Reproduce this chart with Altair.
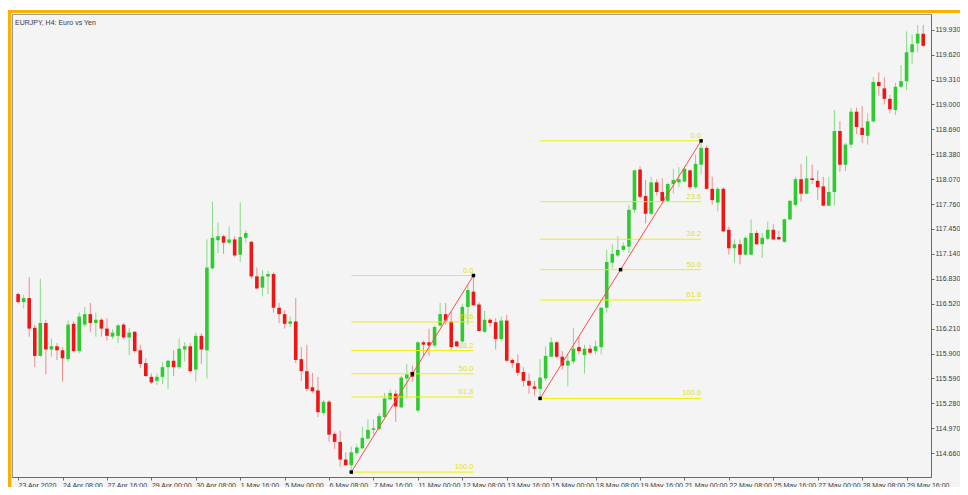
import altair as alt
import pandas as pd

# ---- EURJPY H4 candles ----
opens = [116.64, 116.54, 116.59, 116.22, 115.87, 116.28, 115.95, 115.99, 115.94, 115.83,
         116.27, 115.93, 116.26, 116.39, 116.28, 116.32, 116.21, 116.11, 116.12, 116.26,
         116.10, 116.17, 115.94, 115.78, 115.61, 115.56, 115.61, 115.73, 115.81, 115.73,
         115.95, 115.99, 115.70, 116.12, 115.94, 116.96, 117.31, 117.36, 117.28, 117.32,
         117.13, 117.34, 117.29, 116.86, 116.72, 116.86, 116.89, 116.47, 116.39, 116.27,
         116.30, 115.83, 115.68, 115.48, 115.44, 115.16, 115.30, 114.90, 114.80, 114.58,
         114.51, 114.66, 114.72, 114.84, 114.95, 114.96, 115.11, 115.33, 115.40, 115.23,
         115.59, 115.67, 115.19, 116.04, 116.04, 116.00, 116.25, 116.39, 116.30, 116.05,
         116.05, 116.48, 116.67, 116.51, 116.17, 116.32, 116.29, 116.08, 116.31, 115.82,
         115.78, 115.67, 115.56, 115.49, 115.46, 115.59, 115.86, 116.04, 115.86, 115.75,
         115.80, 115.98, 115.88, 115.96, 115.93, 115.98, 116.47, 117.03, 117.12, 117.19,
         117.23, 117.69, 118.19, 117.86, 117.64, 118.03, 117.91, 117.80, 118.01, 118.03,
         118.04, 118.18, 117.97, 118.25, 118.46, 117.95, 117.78, 117.95, 117.44, 117.21,
         117.26, 117.13, 117.13, 117.40, 117.26, 117.33, 117.44, 117.35, 117.29, 117.57,
         117.75, 118.07, 117.89, 118.08, 118.05, 117.98, 117.74, 117.91, 118.67, 118.25,
         118.50, 118.91, 118.71, 118.61, 118.79, 119.28, 119.20, 119.07, 118.93, 119.22,
         119.29, 119.65, 119.76, 119.88]
highs = [116.66, 116.63, 116.85, 116.26, 116.83, 116.32, 116.09, 116.03, 115.98, 116.31,
         116.30, 116.41, 116.48, 116.53, 116.41, 116.34, 116.34, 116.20, 116.27, 116.28,
         116.22, 116.18, 116.01, 115.84, 115.65, 115.65, 115.79, 115.82, 115.94, 116.09,
         116.04, 116.03, 116.16, 116.15, 117.32, 117.79, 117.53, 117.38, 117.48, 117.36,
         117.78, 117.43, 117.30, 116.97, 116.94, 116.93, 116.91, 116.53, 116.44, 116.36,
         116.59, 115.98, 116.01, 115.66, 115.61, 115.32, 115.32, 114.93, 114.94, 114.67,
         114.74, 114.77, 114.99, 115.08, 115.08, 115.16, 115.41, 115.45, 115.44, 115.62,
         115.77, 115.75, 116.05, 116.06, 116.21, 116.25, 116.53, 116.53, 116.42, 116.06,
         116.52, 116.75, 116.871, 116.54, 116.43, 116.34, 116.34, 116.36, 116.38, 115.84,
         115.89, 115.73, 115.65, 115.56, 115.83, 115.99, 116.10, 116.05, 115.93, 115.89,
         116.22, 116.11, 116.01, 116.01, 116.06, 116.48, 117.19, 117.26, 117.36, 117.28,
         117.75, 118.19, 118.23, 118.06, 118.10, 118.07, 118.08, 118.03, 118.20, 118.22,
         118.23, 118.19, 118.38, 118.547, 118.49, 118.10, 117.97, 117.97, 117.48, 117.32,
         117.32, 117.36, 117.57, 117.43, 117.40, 117.54, 117.51, 117.43, 117.58, 117.81,
         118.10, 118.26, 118.36, 118.25, 118.18, 118.10, 118.10, 118.93, 118.79, 118.52,
         118.96, 118.96, 118.98, 118.89, 119.34, 119.40, 119.34, 119.12, 119.27, 119.49,
         119.91, 119.87, 119.99, 119.99]
lows = [116.52, 116.46, 116.11, 115.73, 115.86, 115.64, 115.86, 115.82, 115.55, 115.80,
        115.91, 115.90, 116.23, 116.17, 116.11, 116.11, 116.06, 116.08, 116.03, 116.08,
        115.88, 115.91, 115.72, 115.61, 115.52, 115.51, 115.52, 115.46, 115.62, 115.71,
        115.80, 115.66, 115.55, 115.77, 115.59, 116.95, 117.15, 117.14, 117.26, 117.10,
        117.04, 117.28, 116.83, 116.70, 116.61, 116.64, 116.41, 116.28, 116.21, 116.23,
        115.78, 115.56, 115.43, 115.41, 115.11, 115.13, 114.80, 114.71, 114.49, 114.50,
        114.424, 114.63, 114.71, 114.83, 114.89, 114.94, 115.10, 115.32, 115.05, 115.22,
        115.34, 115.55, 115.17, 115.87, 115.87, 115.98, 116.23, 116.26, 115.95, 115.98,
        116.03, 116.26, 116.49, 116.17, 116.16, 116.23, 115.95, 116.05, 115.80, 115.72,
        115.62, 115.49, 115.40, 115.38, 115.341, 115.56, 115.86, 115.84, 115.70, 115.49,
        115.77, 115.89, 115.65, 115.89, 115.89, 115.89, 116.41, 116.96, 117.10, 117.17,
        117.15, 117.65, 117.83, 117.52, 117.62, 117.87, 117.78, 117.78, 117.89, 117.97,
        118.03, 117.94, 117.95, 118.13, 117.94, 117.75, 117.67, 117.41, 117.13, 117.03,
        117.01, 117.12, 117.12, 117.25, 117.09, 117.31, 117.31, 117.31, 117.28, 117.56,
        117.73, 117.79, 117.88, 118.01, 117.81, 117.73, 117.73, 117.74, 118.16, 118.17,
        118.46, 118.63, 118.52, 118.50, 118.77, 119.11, 119.00, 118.89, 118.87, 119.20,
        119.18, 119.50, 119.65, 119.71]
closes = [116.54, 116.59, 116.21, 115.87, 116.28, 115.95, 115.99, 115.94, 115.84, 116.26,
          115.93, 116.36, 116.39, 116.28, 116.32, 116.21, 116.12, 116.16, 116.25, 116.10,
          116.16, 115.93, 115.77, 115.62, 115.54, 115.61, 115.73, 115.81, 115.73, 115.96,
          115.99, 115.68, 116.12, 115.95, 116.97, 117.34, 117.36, 117.28, 117.32, 117.12,
          117.35, 117.40, 116.86, 116.71, 116.86, 116.89, 116.47, 116.39, 116.27, 116.30,
          115.82, 115.68, 115.46, 115.43, 115.17, 115.30, 114.89, 114.80, 114.58, 114.51,
          114.67, 114.73, 114.85, 114.95, 114.97, 115.12, 115.34, 115.41, 115.24, 115.60,
          115.64, 115.61, 116.04, 116.01, 116.00, 116.23, 116.39, 116.31, 115.98, 115.99,
          116.48, 116.69, 116.50, 116.18, 116.32, 116.28, 116.08, 116.31, 115.81, 115.78,
          115.66, 115.56, 115.50, 115.46, 115.60, 115.87, 116.04, 115.86, 115.75, 115.81,
          115.96, 115.93, 115.96, 115.91, 115.99, 116.47, 117.04, 117.14, 117.19, 117.24,
          117.69, 118.18, 117.85, 117.64, 118.03, 117.91, 117.80, 118.01, 118.06, 118.07,
          118.20, 117.97, 118.26, 118.46, 117.95, 117.81, 117.95, 117.42, 117.21, 117.26,
          117.13, 117.34, 117.40, 117.26, 117.34, 117.44, 117.32, 117.32, 117.57, 117.80,
          118.07, 117.89, 118.08, 118.06, 117.97, 117.74, 117.91, 118.67, 118.25, 118.50,
          118.91, 118.72, 118.62, 118.79, 119.28, 119.23, 119.07, 118.94, 119.22, 119.29,
          119.65, 119.75, 119.88, 119.73]

y_ticks = [114.660, 114.970, 115.280, 115.590, 115.900, 116.210, 116.520, 116.830, 117.140,
           117.450, 117.760, 118.070, 118.380, 118.690, 119.000, 119.310, 119.620, 119.930]
x_tick_labels = ["23 Apr 2020", "24 Apr 08:00", "27 Apr 16:00", "29 Apr 00:00", "30 Apr 08:00",
                 "1 May 16:00", "5 May 00:00", "6 May 08:00", "7 May 16:00", "11 May 00:00",
                 "12 May 08:00", "13 May 16:00", "15 May 00:00", "18 May 08:00", "19 May 16:00",
                 "21 May 00:00", "22 May 08:00", "25 May 16:00", "27 May 00:00", "28 May 08:00",
                 "29 May 16:00"]
x_tick_step = 8

# Fibonacci retracements: (bar index of low, low, bar index of high, high)
fib_low_index = [60, 94]
fib_low_price = [114.424, 115.341]
fib_high_index = [82, 123]
fib_high_price = [116.871, 118.547]
fib_levels = [0.0, 23.6, 38.2, 50.0, 61.8, 100.0]

title_text = "EURJPY, H4: Euro vs Yen"

n = len(opens)
assert len(highs) == n and len(lows) == n and len(closes) == n, (len(opens), len(highs), len(lows), len(closes))

candles = pd.DataFrame({"i": list(range(n)), "open": opens, "high": highs,
                        "low": lows, "close": closes})

fib_rows, diag_rows, anchor_rows = [], [], []
for a, lo, b, hi in zip(fib_low_index, fib_low_price, fib_high_index, fib_high_price):
    for lv in fib_levels:
        fib_rows.append({"x0": a, "x1": b, "price": hi - (hi - lo) * lv / 100.0,
                         "label": f"{lv:.1f}"})
    diag_rows.append({"x0": a, "x1": b, "y0": lo, "y1": hi})
    for t in (0.0, 0.5, 1.0):
        anchor_rows.append({"x": a + (b - a) * t, "y": lo + (hi - lo) * t})
fib_df = pd.DataFrame(fib_rows)
diag_df = pd.DataFrame(diag_rows)
anchor_df = pd.DataFrame(anchor_rows)
one = pd.DataFrame({"k": [0]})

# whole chart = 4 + W + 29 = 952 wide, 6 + H + 10 = 479 tall (fits the page)
W, H = 919, 463
PAD = {"left": 4, "top": 6, "right": 29, "bottom": 10}
xs = alt.Scale(domain=[-0.2, 163.5], nice=False, zero=False)
ys = alt.Scale(domain=[114.363, 120.126], nice=False, zero=False)

label_js = "[" + ",".join(f"'{s}'" for s in x_tick_labels) + "]"
x_axis = alt.Axis(values=list(range(0, x_tick_step * len(x_tick_labels), x_tick_step)),
                  labelExpr=f"{label_js}[round(datum.value/{x_tick_step})]",
                  orient="bottom", grid=False, tickSize=3, labelAlign="left",
                  labelBaseline="top", labelPadding=1, labelFlush=False,
                  labelOverlap=False, labelBound=False, title=None)
y_axis = alt.Axis(values=y_ticks, format=".3f", orient="right", grid=False, tickSize=3,
                  labelPadding=1, labelFlush=False, labelOverlap=False, labelBound=False,
                  title=None)


def X(field):
    return alt.X(field, scale=xs, axis=x_axis)


def Y(field):
    return alt.Y(field, scale=ys, axis=y_axis)


UP, DOWN = "#2ecb2e", "#f01515"
UP_W, DOWN_W = "#86dc86", "#f28c8c"
is_up = "datum.close >= datum.open"

base = alt.Chart(candles)
wicks = base.mark_rule(strokeWidth=1).encode(
    x=X("i:Q"), y=Y("low:Q"), y2="high:Q",
    color=alt.condition(is_up, alt.value(UP_W), alt.value(DOWN_W)),
)
bodies = base.mark_bar(size=3.6).encode(
    x=X("i:Q"), y=Y("open:Q"), y2="close:Q",
    color=alt.condition(is_up, alt.value(UP), alt.value(DOWN)),
)

FIB = "#f0f000"
fib_lines = alt.Chart(fib_df).mark_rule(color=FIB, strokeWidth=1).encode(
    x=X("x0:Q"), x2="x1:Q", y=Y("price:Q"))
fib_text = alt.Chart(fib_df).mark_text(
    align="right", baseline="bottom", dy=-1, fontSize=7.5, color="#e4e400",
    font="Liberation Sans").encode(x=X("x1:Q"), y=Y("price:Q"), text="label:N")
diag = alt.Chart(diag_df).mark_rule(color="#ff4a4a", strokeWidth=1).encode(
    x=X("x0:Q"), x2="x1:Q", y=Y("y0:Q"), y2="y1:Q")
anchors = alt.Chart(anchor_df).mark_square(size=12, color="black", opacity=1).encode(
    x=X("x:Q"), y=Y("y:Q"))

title = alt.Chart(one).mark_text(align="left", baseline="middle", fontSize=7,
                                 color="#3a3a3a", font="Liberation Sans").encode(
    x=alt.value(3), y=alt.value(9), text=alt.value(title_text))

GOLD = "#f5b400"
white_strip = alt.Chart(one).mark_rule(color="white", strokeWidth=2).encode(
    x=alt.value(-4), x2=alt.value(W + 40), y=alt.value(-5))
top_bar = alt.Chart(one).mark_rule(color=GOLD, strokeWidth=3).encode(
    x=alt.value(-4), x2=alt.value(W + 40), y=alt.value(-2.5))
left_bar = alt.Chart(one).mark_rule(color=GOLD, strokeWidth=3.5).encode(
    x=alt.value(-2.3), y=alt.value(-4), y2=alt.value(H + 20))

chart = alt.layer(
    wicks, bodies, fib_lines, fib_text, diag, anchors, title,
    white_strip, top_bar, left_bar
).properties(
    width=W, height=H,
    autosize=alt.AutoSizeParams(type="none"),
    padding=PAD,
    background="#f4f4f4",
).configure_view(
    fill="#f4f4f4", stroke="#9a9a9a", strokeWidth=1
).configure_axis(
    domainColor="#6a6a6a", tickColor="#6a6a6a", labelColor="#3a3a3a",
    labelFont="Liberation Sans", labelFontSize=7, labelOverlap=False
)

chart.save("out.html", embed_options={"renderer": "svg", "actions": False})
